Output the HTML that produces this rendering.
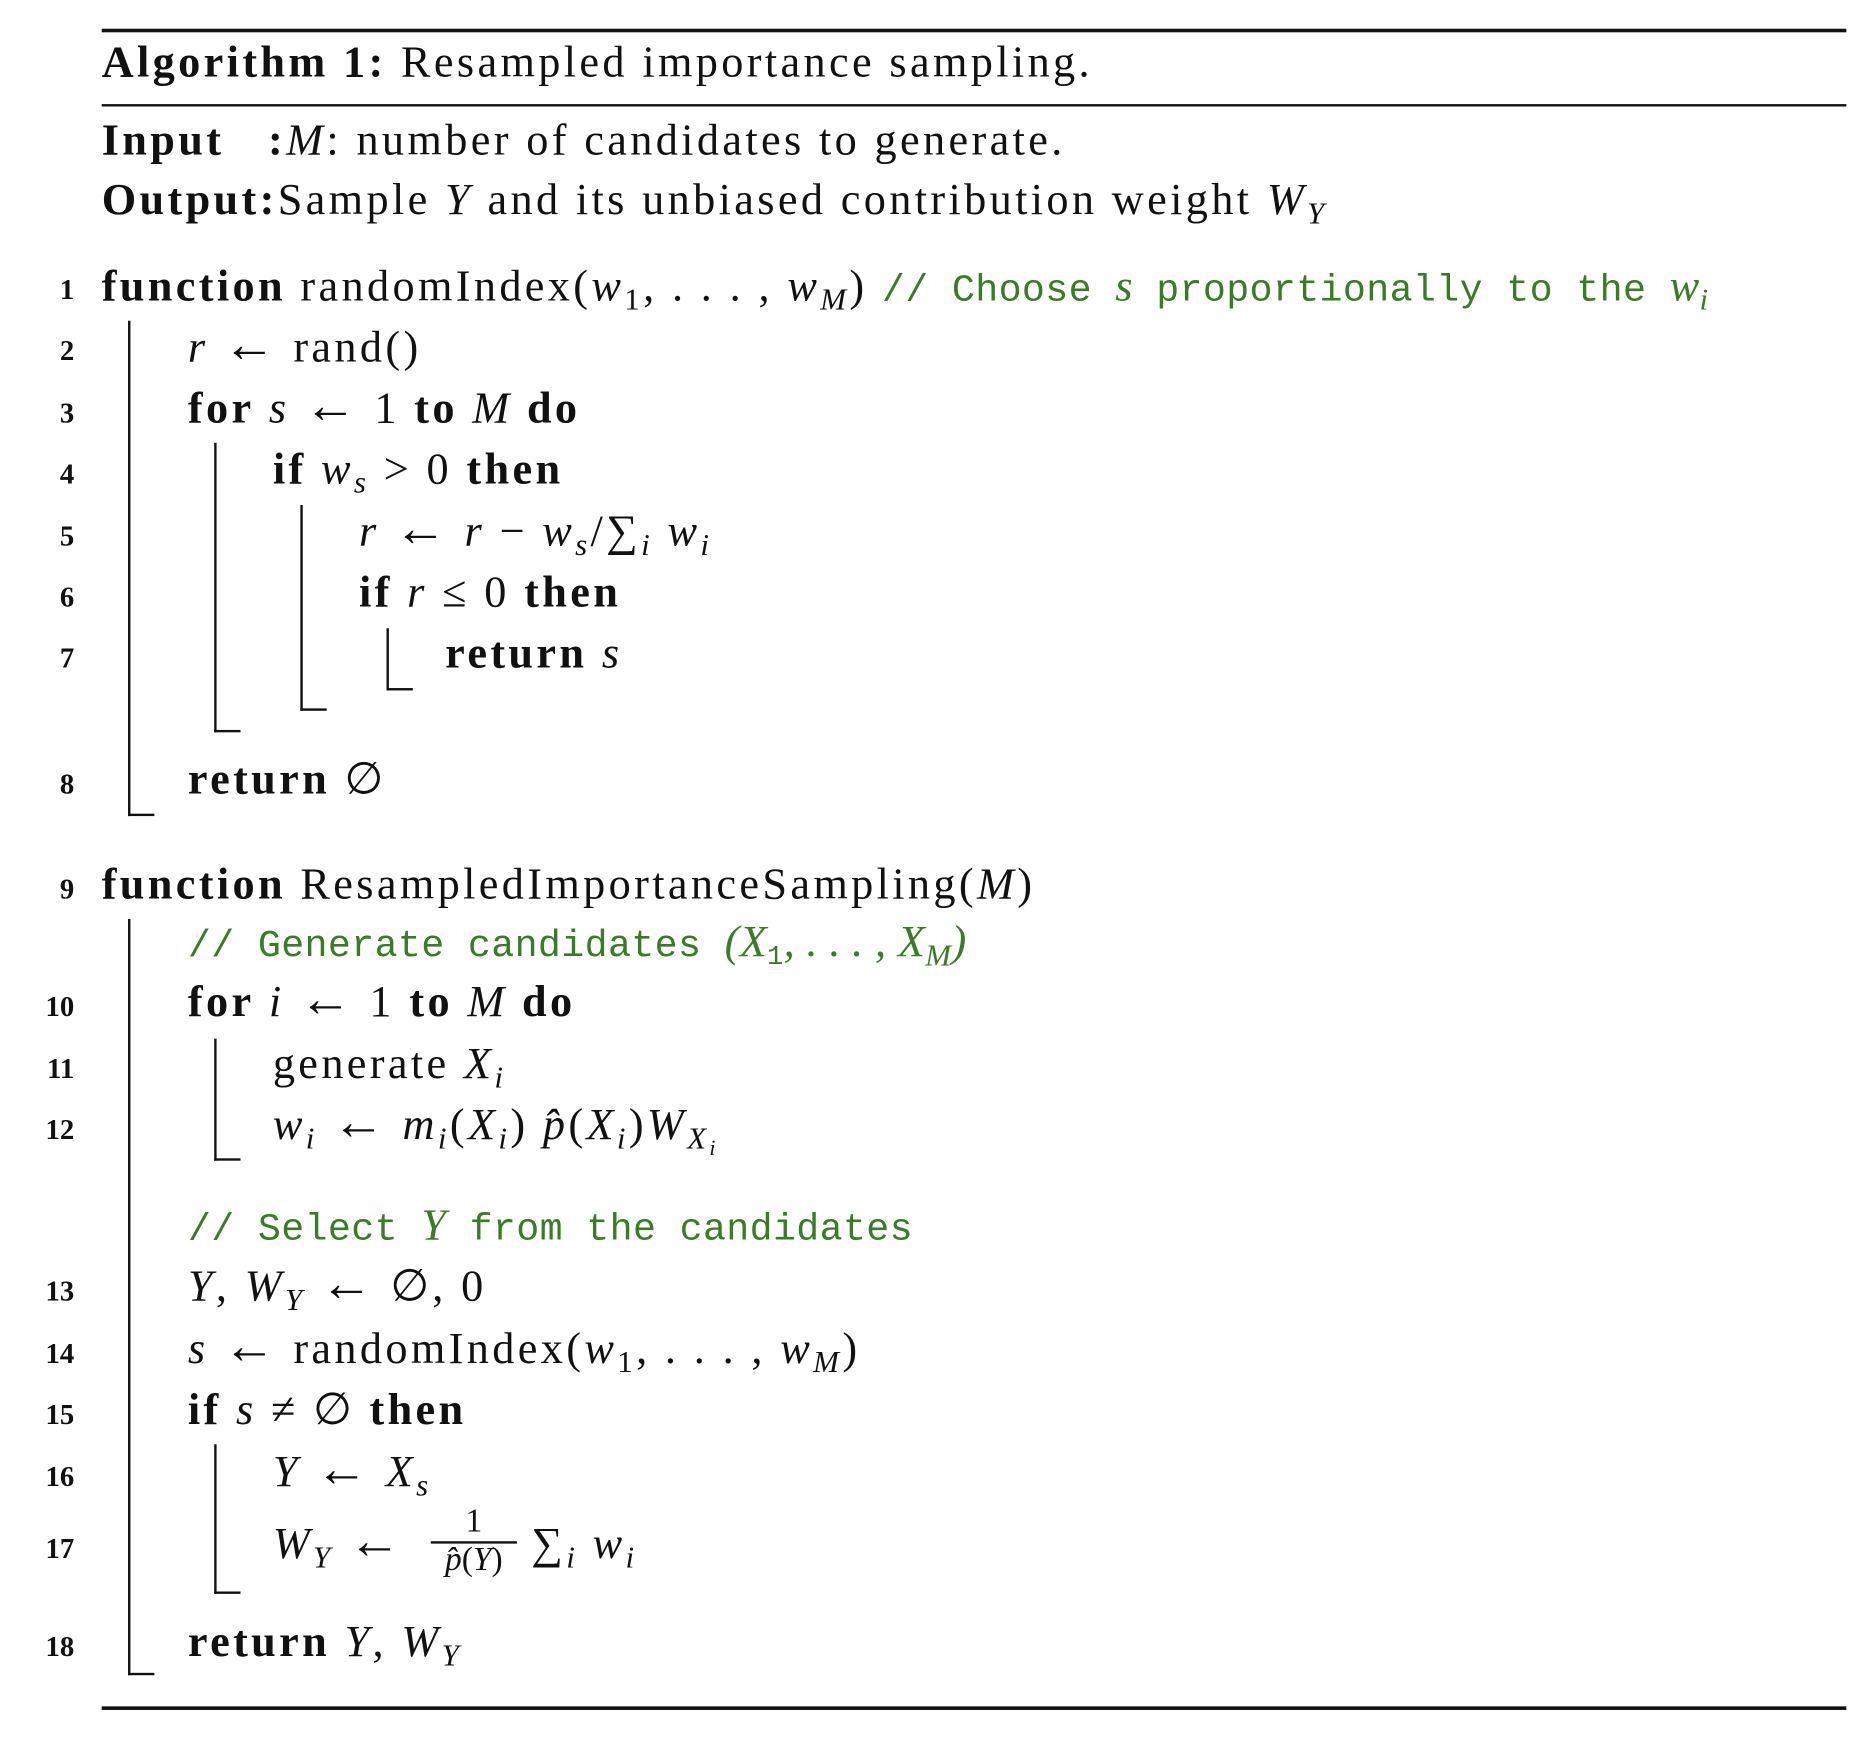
<!DOCTYPE html>
<html><head><meta charset="utf-8"><style>
html,body{margin:0;padding:0;background:#fff;}
#wrap{width:1876px;height:1746px;overflow:hidden;position:relative;}
#c{position:absolute;left:0;top:0;width:1560px;height:1460px;transform:scale(1.1966);transform-origin:0 0;font-family:"Liberation Serif",serif;color:#111;}
.l{position:absolute;font-size:37px;line-height:40px;white-space:nowrap;letter-spacing:2.8px;}
.n{position:absolute;font-size:24px;font-weight:bold;line-height:30px;width:62px;text-align:right;left:0;}
.r{position:absolute;background:#111;}
b{font-weight:bold;}
i{font-style:italic;}
.a{font-size:44px;line-height:0;}
.cm{color:#3a7a28;font-family:"Liberation Mono",monospace;font-size:32px;letter-spacing:0.3px;}
.cm i{font-family:"Liberation Serif",serif;font-size:37px;}
sub{font-size:0.7em;vertical-align:-0.3em;line-height:0;}
.v{position:absolute;border-left:2px solid #111;border-bottom:2px solid #111;width:20px;}
</style></head><body><div id="wrap"><div id="c">
<div class="r" style="left:85px;top:24px;width:1458px;height:3px"></div>
<div class="l" style="left:85px;top:33px"><b>Algorithm 1:</b> Resampled importance sampling.</div>
<div class="r" style="left:85px;top:87px;width:1458px;height:2px"></div>
<div class="l" style="left:85px;top:98px"><b>Input</b></div>
<div class="l" style="left:224px;top:98px"><b>:</b><i>M</i>: number of candidates to generate.</div>
<div class="l" style="left:85px;top:148px"><b>Output:</b>Sample <i>Y</i> and its unbiased contribution weight <i>W</i><sub><i>Y</i></sub></div>

<div class="n" style="top:228px">1</div>
<div class="l" style="left:85px;top:220px"><b>function</b> randomIndex(<i>w</i><sub>1</sub>, . . . , <i>w</i><sub><i>M</i></sub>) <span class="cm">// Choose <i>s</i> proportionally to the <i>w<sub>i</sub></i></span></div>
<div class="n" style="top:279px">2</div>
<div class="l" style="left:157px;top:271px"><i>r</i> <span class="a">←</span> rand()</div>
<div class="n" style="top:331px">3</div>
<div class="l" style="left:157px;top:322px"><b>for</b> <i>s</i> <span class="a">←</span> 1 <b>to</b> <i>M</i> <b>do</b></div>
<div class="n" style="top:382px">4</div>
<div class="l" style="left:228px;top:373px"><b>if</b> <i>w<sub>s</sub></i> &gt; 0 <b>then</b></div>
<div class="n" style="top:434px">5</div>
<div class="l" style="left:300px;top:425px"><i>r</i> <span class="a">←</span> <i>r</i> − <i>w<sub>s</sub></i>/∑<sub><i>i</i></sub> <i>w<sub>i</sub></i></div>
<div class="n" style="top:485px">6</div>
<div class="l" style="left:300px;top:476px"><b>if</b> <i>r</i> ≤ 0 <b>then</b></div>
<div class="n" style="top:536px">7</div>
<div class="l" style="left:372px;top:527px"><b>return</b> <i>s</i></div>
<div class="n" style="top:641px">8</div>
<div class="l" style="left:157px;top:632px"><b>return</b> ∅</div>
<div class="v" style="left:107px;top:268px;height:412px"></div>
<div class="v" style="left:179px;top:370px;height:240px"></div>
<div class="v" style="left:251px;top:422px;height:170px"></div>
<div class="v" style="left:323px;top:525px;height:50px"></div>

<div class="n" style="top:729px">9</div>
<div class="l" style="left:85px;top:720px"><b>function</b> ResampledImportanceSampling(<i>M</i>)</div>
<div class="l" style="left:157px;top:768px"><span class="cm">// Generate candidates <i>(X</i><sub>1</sub><i>, . . . , X<sub>M</sub>)</i></span></div>
<div class="n" style="top:827px">10</div>
<div class="l" style="left:157px;top:818px"><b>for</b> <i>i</i> <span class="a">←</span> 1 <b>to</b> <i>M</i> <b>do</b></div>
<div class="n" style="top:879px">11</div>
<div class="l" style="left:228px;top:870px">generate <i>X<sub>i</sub></i></div>
<div class="n" style="top:930px">12</div>
<div class="l" style="left:228px;top:921px"><i>w<sub>i</sub></i> <span class="a">←</span> <i>m<sub>i</sub></i>(<i>X<sub>i</sub></i>) <i>p̂</i>(<i>X<sub>i</sub></i>)<i>W</i><sub><i>X<sub>i</sub></i></sub></div>
<div class="l" style="left:157px;top:1005px"><span class="cm">// Select <i>Y</i> from the candidates</span></div>
<div class="n" style="top:1065px">13</div>
<div class="l" style="left:157px;top:1056px"><i>Y</i>, <i>W<sub>Y</sub></i> <span class="a">←</span> ∅, 0</div>
<div class="n" style="top:1117px">14</div>
<div class="l" style="left:157px;top:1108px"><i>s</i> <span class="a">←</span> randomIndex(<i>w</i><sub>1</sub>, . . . , <i>w</i><sub><i>M</i></sub>)</div>
<div class="n" style="top:1168px">15</div>
<div class="l" style="left:157px;top:1159px"><b>if</b> <i>s</i> ≠ ∅ <b>then</b></div>
<div class="n" style="top:1220px">16</div>
<div class="l" style="left:228px;top:1211px"><i>Y</i> <span class="a">←</span> <i>X<sub>s</sub></i></div>
<div class="n" style="top:1280px">17</div>
<div class="l" style="left:228px;top:1271px"><i>W<sub>Y</sub></i> <span class="a">←</span></div>
<div style="position:absolute;left:360px;top:1258px;width:72px;text-align:center;font-size:28px;line-height:28px">1<div style="border-top:2px solid #111;margin-top:2px"></div><i>p̂</i>(<i>Y</i>)</div>
<div class="l" style="left:444px;top:1271px">∑<sub><i>i</i></sub> <i>w<sub>i</sub></i></div>
<div class="n" style="top:1362px">18</div>
<div class="l" style="left:157px;top:1353px"><b>return</b> <i>Y</i>, <i>W<sub>Y</sub></i></div>
<div class="v" style="left:107px;top:768px;height:630px"></div>
<div class="v" style="left:179px;top:868px;height:100px"></div>
<div class="v" style="left:179px;top:1207px;height:123px"></div>

<div class="r" style="left:85px;top:1426px;width:1458px;height:3px"></div>
</div></div></body></html>
